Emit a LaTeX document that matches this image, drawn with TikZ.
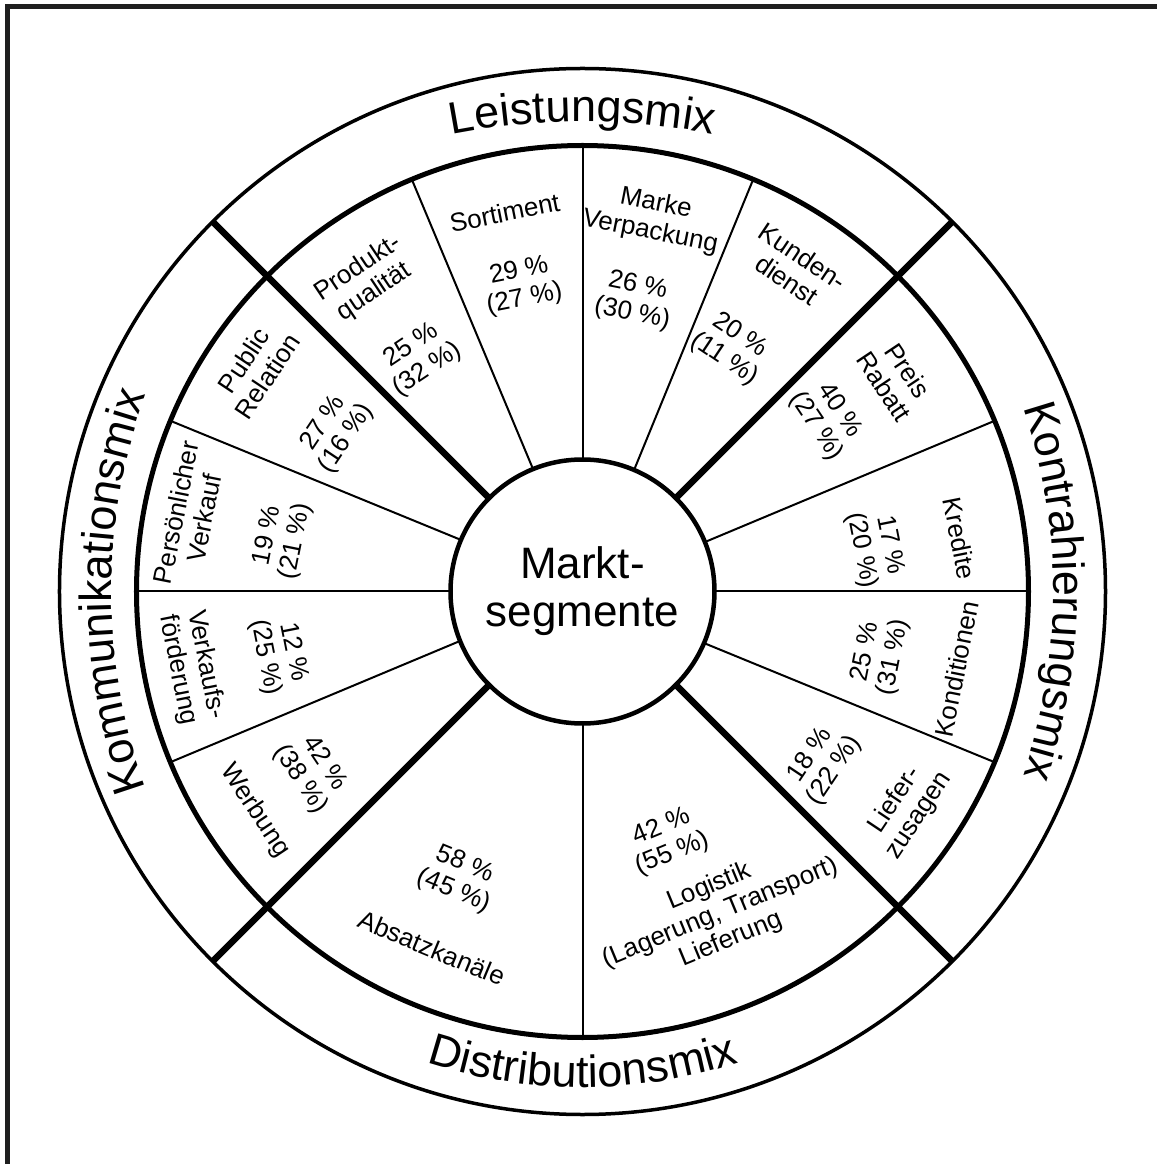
\documentclass[tikz,border=0pt]{standalone}
\usepackage{fontspec}
\setmainfont{Liberation Sans}
\usetikzlibrary{decorations.text}
\newcommand\ringfont{\fontsize{45}{48}\selectfont}
\newcommand\segfont{\fontsize{26}{28.5}\selectfont}
\begin{document}
\begin{tikzpicture}[x=1pt,y=1pt,
  frame/.style={line width=4.5pt, black!88},
  outerring/.style={line width=3.5pt},
  midring/.style={line width=5pt},
  hub/.style={draw, circle, line width=4.5pt, fill=white, minimum size=264pt,
              inner sep=0pt, outer sep=0pt, align=center,
              font=\fontsize{44}{48}\selectfont},
  major/.style={line width=6.5pt},
  minor/.style={line width=2pt},
  seg/.style={align=center, inner sep=0pt, font=\segfont},
  ring/.style={decorate, decoration={text along path, text align=center,
               text={|\ringfont|#1}}},
]
\useasboundingbox (-582.5,-572.5) rectangle (573.5,591.5);

% frame (left and top edges)
\draw[frame] (-575,-600) -- (-575,585) -- (600,585);

% rings
\draw[outerring] (0,0) circle[radius=523];
\draw[midring] (0,0) circle[radius=446];

% hub
\node[hub] (hub) at (0,0) {Markt-\\segmente};

% points where the spokes meet the rings
\foreach \a/\n in {45/ne,135/nw,225/sw,315/se} \coordinate (o-\n) at (\a:523);
\foreach \a/\n in {0/a,22.5/b,67.5/c,90/d,112.5/e,157.5/f,180/g,202.5/h,270/i,337.5/j}
  \coordinate (m-\n) at (\a:446);

% spokes between the four mixes
\foreach \a/\n in {45/ne,135/nw,225/sw,315/se} \draw[major] (hub.\a) -- (o-\n);
% spokes between the instruments
\foreach \a/\n in {0/a,22.5/b,67.5/c,90/d,112.5/e,157.5/f,180/g,202.5/h,270/i,337.5/j}
  \draw[minor] (hub.\a) -- (m-\n);

% ring labels, set on gently curved baselines
\path[ring=Leistungsmix]
  ([shift={(0,-210)}]115:680) arc[start angle=115,end angle=65,radius=680];
\path[ring=Distributionsmix]
  (235:496) arc[start angle=235,end angle=305,radius=496];
\path[ring=Kommunikationsmix]
  ([shift={(109,0)}]210:580) arc[start angle=210,end angle=150,radius=580];
\path[ring=Kontrahierungsmix]
  ([shift={(-109,0)}]30:580) arc[start angle=30,end angle=-30,radius=580];

% Leistungsmix
\node[seg, rotate=33.75] (prod) at (124.8:379) {Produkt-\\qualität};
\node[seg, rotate=33.75] (prodp) at (124.9:285) {25 \%\\(32 \%)};
\node[seg, rotate=11.25] (sort) at (101.6:387) {Sortiment};
\node[seg, rotate=11.25] (sortp) at (101.2:312) {29 \%\\(27 \%)};
\node[seg, rotate=-11.25] (marke) at (79.3:380) {Marke\\Verpackung};
\node[seg, rotate=-11.25] (markep) at (79.8:296) {26 \%\\(30 \%)};
\node[seg, rotate=-33.75] (kund) at (56.7:387) {Kunden-\\dienst};
\node[seg, rotate=-33.75] (kundp) at (58.5:286) {20 \%\\(11 \%)};

% Kontrahierungsmix
\node[seg, rotate=-56.25] (preis) at (34.2:379) {Preis\\Rabatt};
\node[seg, rotate=-56.25] (preisp) at (35.2:300) {40 \%\\(27 \%)};
\node[seg, rotate=-78.75] (kred) at (8:381) {Kredite};
\node[seg, rotate=-78.75] (kredp) at (8.5:296) {17 \%\\(20 \%)};
\node[seg, rotate=78.75] (kond) at (-11.7:382) {Konditionen};
\node[seg, rotate=78.75] (kondp) at (-12:304) {25 \%\\(31 \%)};
\node[seg, rotate=56.25] (lief) at (-33.7:390) {Liefer-\\zusagen};
\node[seg, rotate=56.25] (liefp) at (-35.5:295) {18 \%\\(22 \%)};

% Kommunikationsmix
\node[seg, rotate=56.25] (pr) at (145.7:396) {Public\\Relation};
\node[seg, rotate=56.25] (prp) at (147:295) {27 \%\\(16 \%)};
\node[seg, rotate=78.75] (pers) at (169:400) {Persönlicher\\Verkauf};
\node[seg, rotate=78.75] (persp) at (170:305) {19 \%\\(21 \%)};
\node[seg, rotate=-78.75] (vkf) at (191:398) {Verkaufs-\\förderung};
\node[seg, rotate=-78.75] (vkfp) at (191.8:310) {12 \%\\(25 \%)};
\node[seg, rotate=-56.25] (werb) at (213.8:394) {Werbung};
\node[seg, rotate=-56.25] (werbp) at (213.7:325) {42 \%\\(38 \%)};

% Distributionsmix
\node[seg, rotate=-22.5] (absatz) at (247.1:387) {Absatzkanäle};
\node[seg, rotate=-22.5] (absatzp) at (246.7:312) {58 \%\\(45 \%)};
\node[seg, rotate=22.5] (log) at (293.2:350) {Logistik\\(Lagerung, Transport)\\Lieferung};
\node[seg, rotate=22.5] (logp) at (288.8:263) {42 \%\\(55 \%)};
\end{tikzpicture}
\end{document}
